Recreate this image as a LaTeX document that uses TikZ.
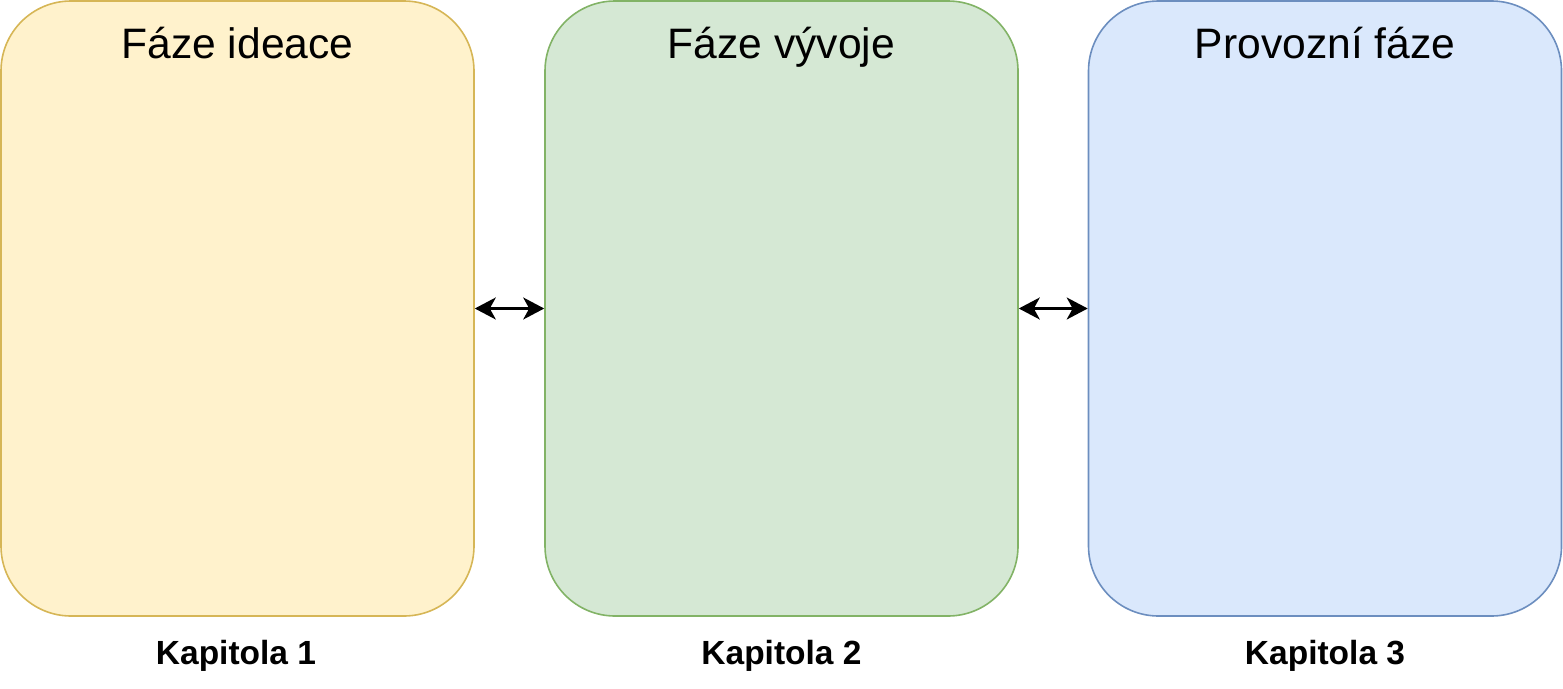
\documentclass[tikz,border=0pt]{standalone}
\usepackage{fontspec}
\setmainfont{Liberation Sans}
\usetikzlibrary{arrows.meta}
\definecolor{yfill}{HTML}{FFF2CC}\definecolor{ydraw}{HTML}{D6B656}
\definecolor{gfill}{HTML}{D5E8D4}\definecolor{gdraw}{HTML}{82B366}
\definecolor{bfill}{HTML}{DAE8FC}\definecolor{bdraw}{HTML}{6C8EBF}
\begin{document}
\begin{tikzpicture}[x=1pt,y=-1pt,
  phase/.style={rectangle,rounded corners=70pt,line width=1.6pt,minimum width=473pt,minimum height=615pt,inner sep=0pt},
  title/.style={anchor=base,font=\fontsize{42.6}{50}\selectfont},
  chap/.style={anchor=base,font=\bfseries\fontsize{33.5}{40}\selectfont},
  tip/.tip={Stealth[length=21pt,width=22pt,inset=6pt]},
  link/.style={tip-tip,line width=2.4pt}]
\useasboundingbox (0,0) rectangle (1563,688);
\node[phase,fill=yfill,draw=ydraw] (p1) at (237.5,308.5) {};
\node[phase,fill=gfill,draw=gdraw] (p2) at (781.5,308.5) {};
\node[phase,fill=bfill,draw=bdraw] (p3) at (1325,308.5) {};
\node[title] (t1) at (237.5,58) {Fáze ideace};
\node[title] (t2) at (781.5,58) {Fáze vývoje};
\node[title] (t3) at (1325,58) {Provozní fáze};
\node[chap] (k1) at (236,664) {Kapitola 1};
\node[chap] (k2) at (781.5,664) {Kapitola 2};
\node[chap] (k3) at (1325,664) {Kapitola 3};
\draw[link] (p1.east) -- (p2.west);
\draw[link] (p2.east) -- (p3.west);
\end{tikzpicture}
\end{document}
